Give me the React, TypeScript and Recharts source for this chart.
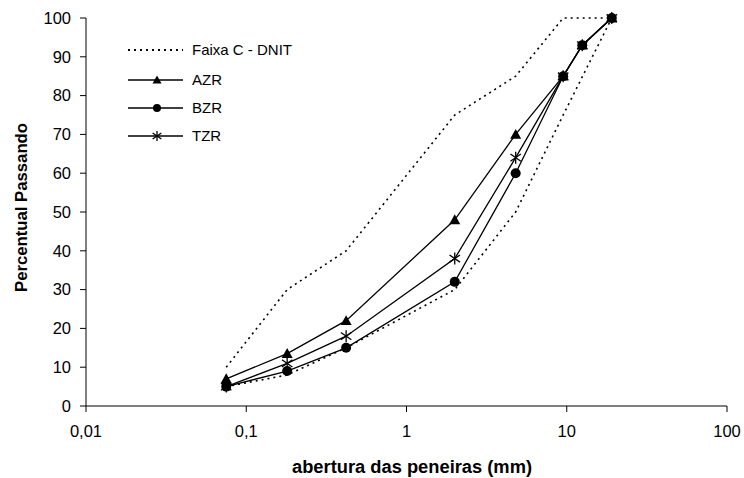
import React from 'react';
import { LineChart, Line, XAxis, YAxis, Customized } from 'recharts';

// sieve openings (mm) and percent passing
const sieves = [0.075, 0.18, 0.42, 2.0, 4.8, 9.5, 12.5, 19.1];
const azr = [7, 13.5, 22, 48, 70, 85, 93, 100];
const bzr = [5, 9, 15, 32, 60, 85, 93, 100];
const tzr = [5, 11, 18, 38, 64, 85, 93, 100];

// DNIT band C limits
const faixaSieves = [0.075, 0.18, 0.42, 2.0, 4.8, 9.5, 19.1];
const faixaUpper = [10, 30, 40, 75, 85, 100, 100];
const faixaLower = [5, 8, 15, 30, 50, 75, 100];

const xTicks = [0.01, 0.1, 1, 10, 100];
const yTicks = [0, 10, 20, 30, 40, 50, 60, 70, 80, 90, 100];

const FONT = '"Liberation Sans", Arial, sans-serif';

const toPoints = (xs: number[], ys: number[]) => xs.map((x, i) => ({ x, y: ys[i] }));

const azrData = toPoints(sieves, azr);
const bzrData = toPoints(sieves, bzr);
const tzrData = toPoints(sieves, tzr);
const upperData = toPoints(faixaSieves, faixaUpper);
const lowerData = toPoints(faixaSieves, faixaLower);

const Triangle = ({ cx, cy, s = 5.5 }: any) => (
  <polygon points={`${cx},${cy - s} ${cx - s},${cy + s * 0.8} ${cx + s},${cy + s * 0.8}`} fill="#000" />
);

const Circle = ({ cx, cy, r = 5 }: any) => <circle cx={cx} cy={cy} r={r} fill="#000" />;

const Star = ({ cx, cy, s = 6 }: any) => (
  <g stroke="#000" strokeWidth={1.3}>
    <line x1={cx} y1={cy - s} x2={cx} y2={cy + s} />
    <line x1={cx - s * 0.87} y1={cy - s * 0.6} x2={cx + s * 0.87} y2={cy + s * 0.6} />
    <line x1={cx - s * 0.87} y1={cy + s * 0.6} x2={cx + s * 0.87} y2={cy - s * 0.6} />
  </g>
);

const fmt = (v: number) => String(v).replace('.', ',');

const Overlay = () => (
  <g fontFamily={FONT} fill="#000">
    {/* legend */}
    <line x1={128} y1={50} x2={183} y2={50} stroke="#000" strokeWidth={2} strokeDasharray="2 4" />
    <text x={192} y={55} fontSize={15}>Faixa C - DNIT</text>
    <line x1={128} y1={80} x2={183} y2={80} stroke="#000" strokeWidth={1.3} />
    <Triangle cx={157} cy={80} s={4.5} />
    <text x={192} y={85} fontSize={15}>AZR</text>
    <line x1={128} y1={108} x2={183} y2={108} stroke="#000" strokeWidth={1.3} />
    <Circle cx={157} cy={108} r={4} />
    <text x={192} y={113} fontSize={15}>BZR</text>
    <line x1={128} y1={136} x2={183} y2={136} stroke="#000" strokeWidth={1.3} />
    <Star cx={157} cy={136} s={5} />
    <text x={192} y={141} fontSize={15}>TZR</text>
    {/* axis titles */}
    <text x={292} y={473} fontSize={17.5} fontWeight="bold" textLength={240} lengthAdjust="spacingAndGlyphs">
      abertura das peneiras (mm)
    </text>
    <text
      x={27}
      y={207.5}
      fontSize={17}
      fontWeight="bold"
      textAnchor="middle"
      textLength={169}
      lengthAdjust="spacingAndGlyphs"
      transform="rotate(-90 27 207.5)"
    >
      Percentual Passando
    </text>
  </g>
);

export default function App() {
  return (
    <div style={{ position: 'absolute', left: 0, top: 0, width: 744, height: 478, background: '#fff' }}>
      <LineChart width={744} height={478} margin={{ top: 18, right: 17, bottom: 0, left: 0 }}>
        <XAxis
          type="number"
          dataKey="x"
          scale="log"
          domain={[0.01, 100]}
          ticks={xTicks}
          allowDataOverflow
          height={72}
          tickFormatter={fmt}
          stroke="#000"
          tickSize={6}
          tickMargin={13}
          tick={{ fill: '#000', fontSize: 16.5, fontFamily: FONT }}
        />
        <YAxis
          type="number"
          dataKey="y"
          domain={[0, 100]}
          ticks={yTicks}
          width={86}
          stroke="#000"
          tickSize={6}
          tickMargin={9}
          tick={{ fill: '#000', fontSize: 16.5, fontFamily: FONT }}
        />
        <Line data={upperData} dataKey="y" stroke="#000" strokeWidth={1.6} strokeDasharray="2 4" dot={false} isAnimationActive={false} />
        <Line data={lowerData} dataKey="y" stroke="#000" strokeWidth={1.6} strokeDasharray="2 4" dot={false} isAnimationActive={false} />
        <Line data={azrData} dataKey="y" stroke="#000" strokeWidth={1.3} dot={(p: any) => <Triangle key={`a${p.index}`} cx={p.cx} cy={p.cy} />} isAnimationActive={false} />
        <Line data={bzrData} dataKey="y" stroke="#000" strokeWidth={1.3} dot={(p: any) => <Circle key={`b${p.index}`} cx={p.cx} cy={p.cy} />} isAnimationActive={false} />
        <Line data={tzrData} dataKey="y" stroke="#000" strokeWidth={1.3} dot={(p: any) => <Star key={`t${p.index}`} cx={p.cx} cy={p.cy} />} isAnimationActive={false} />
        <Customized component={Overlay} />
      </LineChart>
    </div>
  );
}
